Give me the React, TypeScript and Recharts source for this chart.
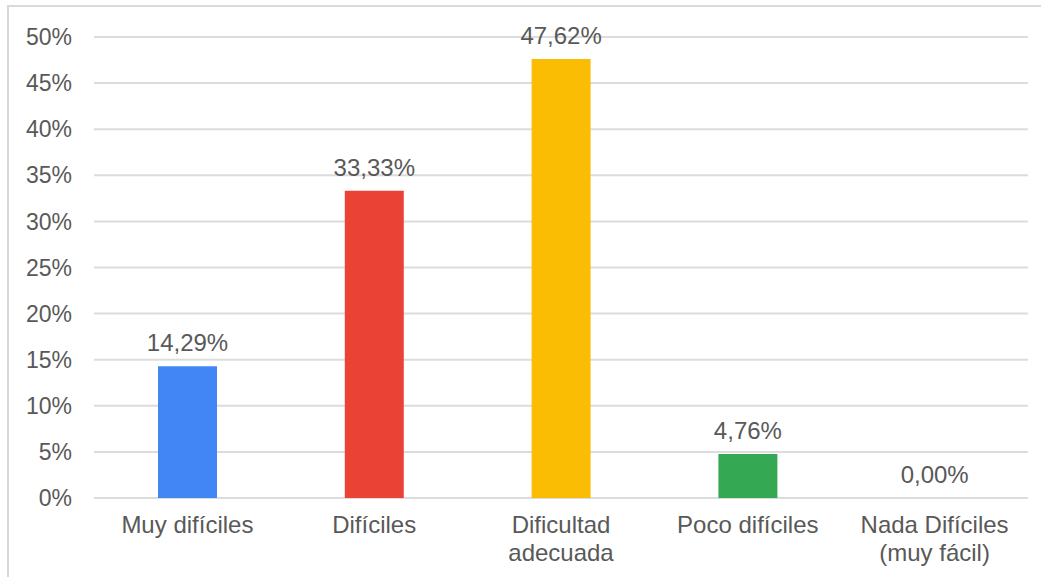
import { BarChart, Bar, XAxis, YAxis, CartesianGrid, Cell, LabelList } from "recharts";

const categories = ["Muy difíciles", "Difíciles", "Dificultad\nadecuada", "Poco difíciles", "Nada Difíciles\n(muy fácil)"];
const percents = [14.29, 33.33, 47.62, 4.76, 0];
const barColors = ["#4285F4", "#EA4335", "#FBBC04", "#34A853", "#34A853"];
const yTicks = [0, 5, 10, 15, 20, 25, 30, 35, 40, 45, 50];

const data = categories.map((name, i) => ({ name, value: percents[i] }));

const FONT = "'Liberation Sans', Arial, sans-serif";
const TEXT = "#595959";

const fmt = (v: number) => v.toFixed(2).replace(".", ",") + "%";

const CategoryTick = (props: any) => {
  const { x, y, payload } = props;
  const lines = String(payload.value).split("\n");
  return (
    <text x={x} y={y} textAnchor="middle" fill={TEXT} fontSize={24} fontFamily={FONT}>
      {lines.map((line, i) => (
        <tspan key={i} x={x} dy={i === 0 ? 35 : 28}>
          {line}
        </tspan>
      ))}
    </text>
  );
};

const ValueLabel = (props: any) => {
  const { x, y, width, height, value } = props;
  // zero bars get a tiny min size, so anchor to the bottom edge
  const top = value === 0 ? y + height : y;
  return (
    <text x={x + width / 2} y={top - 15} textAnchor="middle" fill={TEXT} fontSize={24} fontFamily={FONT}>
      {fmt(value)}
    </text>
  );
};

export default function App() {
  return (
    <div style={{ position: "absolute", left: 0, top: 0, width: 1041, height: 577, background: "#fff" }}>
      <div
        style={{
          position: "absolute",
          left: 7,
          top: 5,
          right: -4,
          bottom: -4,
          borderTop: "2px solid #d9d9d9",
          borderLeft: "2px solid #d9d9d9",
        }}
      />
      <div style={{ position: "absolute", left: 0, top: 0 }}>
        <BarChart width={1041} height={577} data={data} margin={{ top: 37, right: 13, bottom: 0, left: 0 }}>
          <CartesianGrid vertical={false} stroke="#dcdcdc" strokeWidth={2} />
          <XAxis
            dataKey="name"
            height={79}
            axisLine={false}
            tickLine={false}
            tickSize={0}
            tickMargin={0}
            interval={0}
            tick={<CategoryTick />}
          />
          <YAxis
            width={94}
            domain={[0, 50]}
            ticks={yTicks}
            interval={0}
            axisLine={false}
            tickLine={false}
            tickSize={0}
            tickMargin={22}
            tickFormatter={(v: number) => `${v}%`}
            tick={{ fill: TEXT, fontSize: 23, fontFamily: FONT }}
          />
          <Bar dataKey="value" barSize={59} minPointSize={1} isAnimationActive={false}>
            {data.map((d, i) => (
              <Cell key={d.name} fill={d.value === 0 ? "transparent" : barColors[i]} />
            ))}
            <LabelList dataKey="value" content={<ValueLabel />} />
          </Bar>
        </BarChart>
      </div>
    </div>
  );
}
